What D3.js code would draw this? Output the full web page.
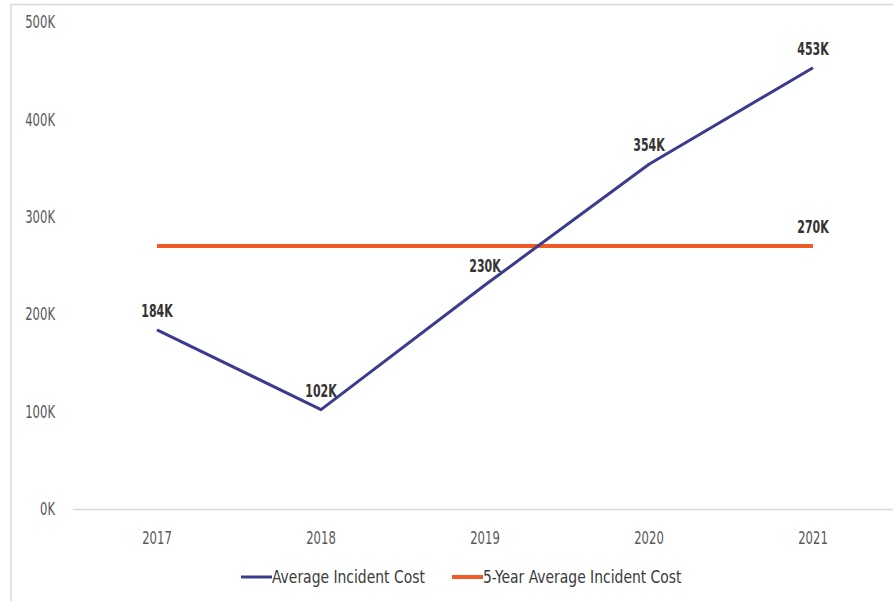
<!DOCTYPE html>
<html>
<head>
<meta charset="utf-8">
<script src="https://cdn.jsdelivr.net/npm/d3@7"></script>
<style>
  body { margin: 0; background: #fff; }
  svg text { font-family: "DejaVu Sans Condensed", "DejaVu Sans", sans-serif; }
</style>
</head>
<body>
<svg id="chart" width="893" height="601"></svg>
<script>
const years = ['2017', '2018', '2019', '2020', '2021'];
const avgCost = [184, 102, 230, 354, 453];          // K
const fiveYearAvg = [270, 270, 270, 270, 270];      // K
const yTicks = [0, 100, 200, 300, 400, 500];

const WIDTH = 893;
const HEIGHT = 601;
const MARGIN_LEFT = 75;
const MARGIN_RIGHT = -2;
const MARGIN_TOP = 22;
const PLOT_BOTTOM = 509;

const BLUE = '#3c3c8e';
const ORANGE = '#f15a24';
const NUM_SCALE = 0.76;   // squeeze glyphs to mimic the condensed face
const LEG_SCALE = 0.86;

const root = d3.select('#chart');

// outer frame
root.append('path')
    .attr('d', `M11,${HEIGHT} V4.5 H${WIDTH}`)
    .attr('fill', 'none')
    .attr('stroke', '#d9d9d9')
    .attr('stroke-width', 1.5);

const x = d3.scaleBand()
    .domain(years)
    .range([MARGIN_LEFT, WIDTH - MARGIN_RIGHT]);
const y = d3.scaleLinear()
    .domain([0, 500])
    .range([PLOT_BOTTOM, MARGIN_TOP]);
const cx = d => x(d) + x.bandwidth() / 2;

function squeezed(sel, sx) {
    return sel.attr('transform', function () {
        const t = d3.select(this);
        return `translate(${t.attr('data-x')},${t.attr('data-y')}) scale(${sx},1)`;
    });
}

// baseline
root.append('line')
    .attr('x1', MARGIN_LEFT - 2).attr('x2', WIDTH)
    .attr('y1', y(0) + 0.5).attr('y2', y(0) + 0.5)
    .attr('stroke', '#d9d9d9')
    .attr('stroke-width', 1.5);

// y tick labels
root.append('g').selectAll('text')
    .data(yTicks)
    .join('text')
    .attr('data-x', 55)
    .attr('data-y', d => y(d))
    .attr('dy', '0.36em')
    .attr('text-anchor', 'end')
    .attr('font-size', 17)
    .attr('fill', '#595959')
    .text(d => d + 'K')
    .call(squeezed, NUM_SCALE);

// x tick labels
root.append('g').selectAll('text')
    .data(years)
    .join('text')
    .attr('data-x', d => cx(d))
    .attr('data-y', 538)
    .attr('dy', '0.36em')
    .attr('text-anchor', 'middle')
    .attr('font-size', 17)
    .attr('fill', '#595959')
    .text(d => d)
    .call(squeezed, NUM_SCALE);

const line = d3.line()
    .x(d => cx(d.year))
    .y(d => y(d.value));

const avgData = years.map((yr, i) => ({ year: yr, value: avgCost[i] }));
const fiveData = years.map((yr, i) => ({ year: yr, value: fiveYearAvg[i] }));

root.append('path')
    .datum(fiveData)
    .attr('d', line)
    .attr('fill', 'none')
    .attr('stroke', ORANGE)
    .attr('stroke-width', 4);

root.append('path')
    .datum(avgData)
    .attr('d', line)
    .attr('fill', 'none')
    .attr('stroke', BLUE)
    .attr('stroke-width', 3)
    .attr('stroke-linejoin', 'round');

// data labels
root.append('g').selectAll('text')
    .data(avgData)
    .join('text')
    .attr('data-x', d => cx(d.year))
    .attr('data-y', d => y(d.value) - 13)
    .attr('text-anchor', 'middle')
    .attr('font-size', 18)
    .attr('font-weight', 'bold')
    .attr('fill', '#333')
    .text(d => d.value + 'K')
    .call(squeezed, 0.68);

const last = fiveData[fiveData.length - 1];
root.append('text')
    .attr('data-x', cx(last.year))
    .attr('data-y', y(last.value) - 13)
    .attr('text-anchor', 'middle')
    .attr('font-size', 18)
    .attr('font-weight', 'bold')
    .attr('fill', '#333')
    .text(last.value + 'K')
    .call(squeezed, 0.68);

// legend
const legend = [
    { name: 'Average Incident Cost', color: BLUE, x: 241, w: 3 },
    { name: '5-Year Average Incident Cost', color: ORANGE, x: 452, w: 4 }
];
const lg = root.append('g').selectAll('g')
    .data(legend)
    .join('g')
    .attr('transform', d => `translate(${d.x},577)`);
lg.append('line')
    .attr('x1', 0).attr('x2', 31)
    .attr('stroke', d => d.color)
    .attr('stroke-width', d => d.w);
lg.append('text')
    .attr('data-x', 31)
    .attr('data-y', 0)
    .attr('dy', '0.36em')
    .attr('font-size', 18)
    .attr('fill', '#3a3a3a')
    .text(d => d.name)
    .call(squeezed, LEG_SCALE);
</script>
</body>
</html>
